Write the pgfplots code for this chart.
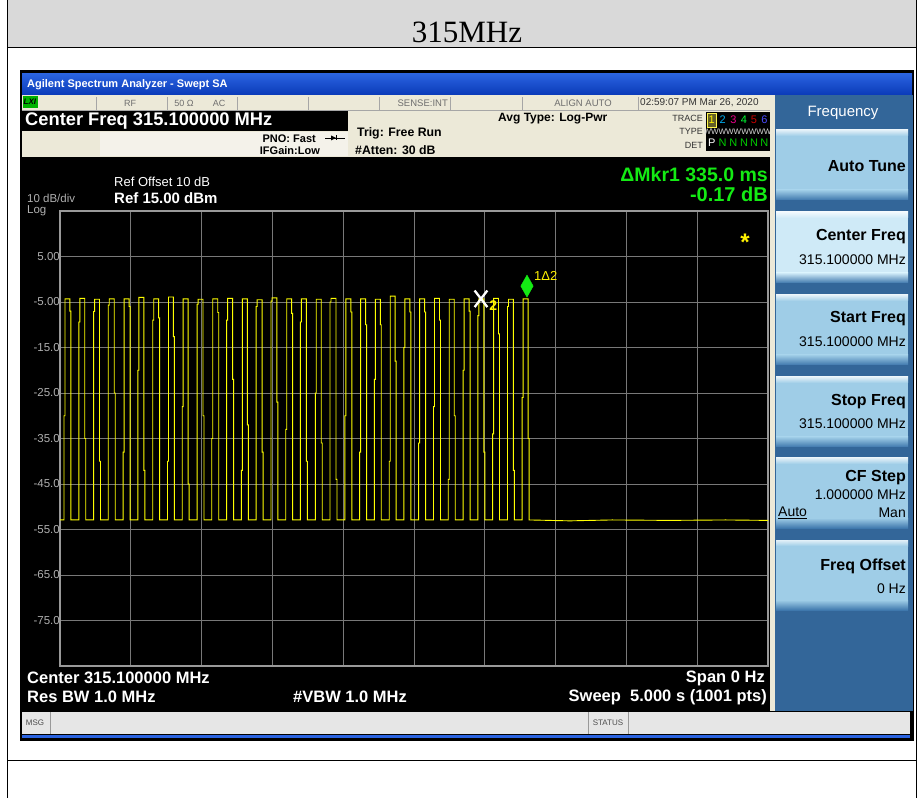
\documentclass[border=0pt]{standalone}
\usepackage{fontspec}
\setmainfont{Liberation Sans}
\newfontfamily\serif{Liberation Serif}
\usepackage{pgfplots}
\pgfplotsset{compat=1.18}
\newcommand\fs[1]{\fontsize{#1}{#1}\selectfont}
\definecolor{beige}{HTML}{ECE9D8}
\definecolor{beigeL}{HTML}{F4F2EA}
\definecolor{panelblue}{HTML}{336699}
\definecolor{btnBody}{HTML}{9FCDE7}
\definecolor{btnSel}{HTML}{CFEAF7}
\definecolor{btnDark}{HTML}{3F78AD}
\definecolor{mkgreen}{RGB}{20,235,20}
\definecolor{tracey}{RGB}{255,255,0}
\definecolor{gridc}{RGB}{120,120,120}
\definecolor{tickc}{RGB}{175,175,175}
\definecolor{hdrgray}{HTML}{D9D9D9}
\definecolor{titleA}{HTML}{2A63E0}
\definecolor{titleB}{HTML}{0A3AB8}
\definecolor{rowtxt}{HTML}{6E6E6E}
\definecolor{msgbar}{HTML}{E6E6E6}
\newcommand\btn[3]{%
 \fill[#3] (776,798-#1) rectangle (908,798-#2);
 \shade[top color=white!70!#3, bottom color=#3] (776,798-#1) rectangle (908,798-#1-6);
 \shade[top color=#3, bottom color=btnDark] (776,798-#2+10) rectangle (908,798-#2);
}
\begin{document}
\begin{tikzpicture}[x=1pt,y=1pt,every node/.style={inner sep=0pt}]
\useasboundingbox (0,0) rectangle (917,798);
\fill[white] (0,0) rectangle (917,798);
% Word table
\fill[hdrgray] (7,798) rectangle (916,798-48);
\node[font=\serif\fs{31}] at (467,798-32) {315MHz};
\draw[black,line width=1pt] (7,798)--(7,0) (916,798)--(916,0) (7,798-48)--(916,798-48) (7,798-760)--(916,798-760);
% screenshot frame
\fill[black] (20,798-70) rectangle (914,798-741);
\shade[top color=titleA, bottom color=titleB] (22,798-74) rectangle (912,798-95);
\node[anchor=west,text=white,font=\bfseries\fs{11}] at (27,798-85) {Agilent Spectrum Analyzer - Swept SA};
% status row
\fill[beige] (22,798-95) rectangle (770,798-157);
\draw[gray!70] (22,798-110.5)--(770,798-110.5);
\foreach \xx in {96,167,237,308,379,450,522,638} \draw[gray!70,line width=0.8pt] (\xx,798-97)--(\xx,798-110);
\fill[green!70!black] (23,798-96) rectangle (38,798-108);
\node[anchor=west,font=\bfseries\itshape\fs{8}] at (23.5,798-102) {LXI};
\node[text=rowtxt,font=\fs{9}] at (130,798-103) {RF};
\node[text=rowtxt,font=\fs{9}] at (184,798-103) {50 Ω};
\node[text=rowtxt,font=\fs{9}] at (219,798-103) {AC};
\node[text=rowtxt,font=\fs{9.5},anchor=east] at (448,798-103) {SENSE:INT};
\node[text=rowtxt,font=\fs{9.5}] at (583,798-103) {ALIGN AUTO};
\node[text=black!80,font=\fs{10},anchor=west] at (640,798-103) {02:59:07 PM Mar 26, 2020};
% center freq box
\fill[black] (20,798-110.7) rectangle (348,798-131);
\node[anchor=west,text=white,font=\bfseries\fs{18.3}] at (25,798-121) {Center Freq 315.100000 MHz};
\fill[beigeL] (100,798-132) rectangle (348,798-156);
\node[anchor=east,font=\bfseries\fs{11}] at (316,798-138.5) {PNO: Fast};
\node[anchor=east,font=\bfseries\fs{11}] at (320,798-151) {IFGain:Low};
\draw[line width=0.7pt] (325,798-138)--(345,798-138);
\fill (331,798-135.5)--(331,798-140.5)--(336,798-138)--cycle;
\draw[line width=0.7pt] (336.5,798-135.5)--(336.5,798-140.5);
\node[anchor=west,font=\bfseries\fs{12.3}] at (357,798-133.5) {Trig: Free Run};
\node[anchor=west,font=\bfseries\fs{12.3}] at (355,798-150) {\#Atten: 30 dB};
\node[anchor=west,font=\bfseries\fs{12}] at (498,798-119) {Avg Type: Log-Pwr};
\node[anchor=east,font=\fs{9},text=black!80] at (703,798-118.5) {TRACE};
\node[anchor=east,font=\fs{9},text=black!80] at (703,798-131.5) {TYPE};
\node[anchor=east,font=\fs{9},text=black!80] at (703,798-145) {DET};
\fill[black] (706,798-112) rectangle (771,798-151);
\fill[olive!60!black] (707.5,798-113) rectangle (716,798-127);
\draw[yellow!70] (707.5,798-113) rectangle (716,798-127);
\node[font=\fs{11},text=yellow] at (711.7,798-120) {1};
\node[font=\fs{11},text=cyan] at (722.7,798-120) {2};
\node[font=\fs{11},text=magenta] at (733.3,798-120) {3};
\node[font=\fs{11},text=green!80!cyan] at (744,798-120) {4};
\node[font=\fs{11},text=red!80!black] at (754,798-120) {5};
\node[font=\fs{11},text=blue!70!white] at (764.3,798-120) {6};
\node[font=\fs{8},text=white!85!black] at (737.5,798-132) {WWWWWWWWW};
\node[font=\fs{11},text=white] at (711.7,798-143) {P};
\foreach \xx in {722.7,733.3,744,754,764.3} \node[font=\fs{11},text=green!80!black] at (\xx,798-143) {N};
% softkey panel
\fill[beige] (770,798-95) rectangle (775,798-711);
\fill[panelblue] (775,798-95) rectangle (913,798-711);
\node[text=white,font=\fs{15}] at (843,798-113) {Frequency};
\btn{130}{200}{btnBody}
\btn{212}{283}{btnSel}
\btn{295}{365}{btnBody}
\btn{377}{447}{btnBody}
\btn{458}{528}{btnBody}
\btn{540}{610}{btnBody}
\node[anchor=east,font=\bfseries\fs{16}] at (906,798-166.5) {Auto Tune};
\node[anchor=east,font=\bfseries\fs{16}] at (906,798-237) {Center Freq};
\node[anchor=east,font=\fs{14}] at (906,798-260) {315.100000 MHz};
\node[anchor=east,font=\bfseries\fs{16}] at (906,798-319) {Start Freq};
\node[anchor=east,font=\fs{14}] at (906,798-342) {315.100000 MHz};
\node[anchor=east,font=\bfseries\fs{16}] at (906,798-402) {Stop Freq};
\node[anchor=east,font=\fs{14}] at (906,798-423.5) {315.100000 MHz};
\node[anchor=east,font=\bfseries\fs{16}] at (906,798-477.5) {CF Step};
\node[anchor=east,font=\fs{14}] at (906,798-495) {1.000000 MHz};
\node[anchor=west,font=\fs{14}] at (778,798-512.7) {\underline{Auto}};
\node[anchor=east,font=\fs{14}] at (906,798-512.7) {Man};
\node[anchor=east,font=\bfseries\fs{16}] at (906,798-566) {Freq Offset};
\node[anchor=east,font=\fs{14}] at (906,798-588.5) {0 Hz};
% display texts
\node[anchor=west,text=white,font=\fs{13}] at (114,798-182) {Ref Offset 10 dB};
\node[anchor=west,text=white,font=\bfseries\fs{15}] at (114,798-198) {Ref 15.00 dBm};
\node[anchor=west,text=tickc,font=\fs{11.5}] at (27,798-198) {10 dB/div};
\node[anchor=west,text=tickc,font=\fs{11.5}] at (27,798-211) {Log};
\node[anchor=east,text=mkgreen,font=\bfseries\fs{19.5}] at (768,798-175) {ΔMkr1 335.0 ms};
\node[anchor=east,text=mkgreen,font=\bfseries\fs{20}] at (768,798-194.5) {-0.17 dB};
\node[anchor=west,text=white,font=\bfseries\fs{16.5}] at (27,798-677.5) {Center 315.100000 MHz};
\node[anchor=west,text=white,font=\bfseries\fs{16.5}] at (27,798-697) {Res BW 1.0 MHz};
\node[anchor=west,text=white,font=\bfseries\fs{16.5}] at (293,798-697) {\#VBW 1.0 MHz};
\node[anchor=east,text=white,font=\bfseries\fs{16.5}] at (765,798-678) {Span 0 Hz};
\node[anchor=east,text=white,font=\bfseries\fs{16.5}] at (767,798-697) {Sweep\ \ 5.000 s (1001 pts)};
% msg bar
\fill[msgbar] (22,798-711.7) rectangle (910,798-734);
\draw[gray!80] (50,798-712)--(50,798-734) (588,798-712)--(588,798-734) (628,798-712)--(628,798-734);
\node[font=\fs{8},text=black!70] at (35,798-723) {MSG};
\node[font=\fs{8},text=black!70] at (608,798-723) {STATUS};
\fill[titleA] (22,798-734.5) rectangle (910,798-738);
% plot
\begin{axis}[at={(60pt,132pt)}, anchor=south west, scale only axis,
 width=708pt, height=455pt, xmin=0, xmax=5, ymin=-85, ymax=15,
 xtick={0.5,1,1.5,2,2.5,3,3.5,4,4.5}, xticklabels={},
 ytick={-75,-65,-55,-45,-35,-25,-15,-5,5},
 yticklabels={-75.0,-65.0,-55.0,-45.0,-35.0,-25.0,-15.0,-5.00,5.00},
 grid=major, grid style={gridc,line width=0.9pt},
 major tick length=0pt,
 axis line style={draw=gray!80,line width=1.4pt},
 yticklabel style={text=tickc,font=\fs{11.5}},
 clip=false]
\addplot[tracey,line width=0.9pt,mark=none] coordinates {
(0,-52.9)
(0.028,-52.9)(0.028,-30)(0.035,-30)(0.035,-4.3)(0.070,-4.3)(0.070,-7)(0.077,-7)(0.077,-52.9)
(0.133,-52.9)(0.133,-9.4)(0.140,-9.4)(0.140,-4.2)(0.175,-4.2)(0.175,-35)(0.182,-35)(0.182,-52.9)
(0.237,-52.9)(0.237,-7.1)(0.244,-7.1)(0.244,-4.4)(0.279,-4.4)(0.279,-40)(0.286,-40)(0.286,-52.9)
(0.341,-52.9)(0.341,-5.7)(0.348,-5.7)(0.348,-4.3)(0.383,-4.3)(0.383,-25)(0.390,-25)(0.390,-52.9)
(0.446,-52.9)(0.446,-38)(0.453,-38)(0.453,-4.3)(0.488,-4.3)(0.488,-6)(0.495,-6)(0.495,-52.9)
(0.550,-52.9)(0.550,-20)(0.557,-20)(0.557,-4.0)(0.592,-4.0)(0.592,-42)(0.599,-42)(0.599,-52.9)
(0.655,-52.9)(0.655,-9)(0.662,-9)(0.662,-4.3)(0.697,-4.3)(0.697,-8.5)(0.704,-8.5)(0.704,-52.9)
(0.759,-52.9)(0.759,-40)(0.766,-40)(0.766,-3.9)(0.801,-3.9)(0.801,-12.6)(0.808,-12.6)(0.808,-52.9)
(0.863,-52.9)(0.863,-28)(0.870,-28)(0.870,-4.3)(0.905,-4.3)(0.905,-45)(0.912,-45)(0.912,-52.9)
(0.968,-52.9)(0.968,-5.5)(0.975,-5.5)(0.975,-4.4)(1.010,-4.4)(1.010,-30)(1.017,-30)(1.017,-52.9)
(1.072,-52.9)(1.072,-35)(1.079,-35)(1.079,-4.3)(1.114,-4.3)(1.114,-7.3)(1.121,-7.3)(1.121,-52.9)
(1.177,-52.9)(1.177,-9)(1.184,-9)(1.184,-4.2)(1.219,-4.2)(1.219,-22)(1.226,-22)(1.226,-52.9)
(1.281,-52.9)(1.281,-42)(1.288,-42)(1.288,-4.3)(1.323,-4.3)(1.323,-32)(1.330,-32)(1.330,-52.9)
(1.385,-52.9)(1.385,-6)(1.392,-6)(1.392,-4.5)(1.427,-4.5)(1.427,-38)(1.434,-38)(1.434,-52.9)
(1.490,-52.9)(1.490,-4.8)(1.497,-4.8)(1.497,-4.1)(1.532,-4.1)(1.532,-27)(1.539,-27)(1.539,-52.9)
(1.594,-52.9)(1.594,-33)(1.601,-33)(1.601,-4.3)(1.636,-4.3)(1.636,-7.5)(1.643,-7.5)(1.643,-52.9)
(1.698,-52.9)(1.698,-9.4)(1.705,-9.4)(1.705,-4.3)(1.740,-4.3)(1.740,-40)(1.747,-40)(1.747,-52.9)
(1.803,-52.9)(1.803,-25)(1.810,-25)(1.810,-4.4)(1.845,-4.4)(1.845,-36)(1.852,-36)(1.852,-52.9)
(1.907,-52.9)(1.907,-5)(1.914,-5)(1.914,-4.2)(1.949,-4.2)(1.949,-44)(1.956,-44)(1.956,-52.9)
(2.012,-52.9)(2.012,-30)(2.019,-30)(2.019,-4.3)(2.054,-4.3)(2.054,-7.2)(2.061,-7.2)(2.061,-52.9)
(2.116,-52.9)(2.116,-38)(2.123,-38)(2.123,-4.3)(2.158,-4.3)(2.158,-10)(2.165,-10)(2.165,-52.9)
(2.220,-52.9)(2.220,-22)(2.227,-22)(2.227,-4.4)(2.262,-4.4)(2.262,-10)(2.269,-10)(2.269,-52.9)
(2.325,-52.9)(2.325,-40)(2.332,-40)(2.332,-3.7)(2.367,-3.7)(2.367,-18)(2.374,-18)(2.374,-52.9)
(2.429,-52.9)(2.429,-15)(2.436,-15)(2.436,-4.3)(2.471,-4.3)(2.471,-7.2)(2.478,-7.2)(2.478,-52.9)
(2.533,-52.9)(2.533,-36)(2.540,-36)(2.540,-4.3)(2.575,-4.3)(2.575,-7.2)(2.582,-7.2)(2.582,-52.9)
(2.638,-52.9)(2.638,-28)(2.645,-28)(2.645,-4.2)(2.680,-4.2)(2.680,-9)(2.687,-9)(2.687,-52.9)
(2.742,-52.9)(2.742,-44)(2.749,-44)(2.749,-4.4)(2.784,-4.4)(2.784,-30)(2.791,-30)(2.791,-52.9)
(2.847,-52.9)(2.847,-20)(2.854,-20)(2.854,-4.3)(2.889,-4.3)(2.889,-7)(2.896,-7)(2.896,-52.9)
(2.951,-52.9)(2.951,-8)(2.958,-8)(2.958,-4.3)(2.993,-4.3)(2.993,-38)(3.000,-38)(3.000,-52.9)
(3.055,-52.9)(3.055,-34)(3.062,-34)(3.062,-4.2)(3.097,-4.2)(3.097,-12)(3.104,-12)(3.104,-52.9)
(3.160,-52.9)(3.160,-6)(3.167,-6)(3.167,-4.4)(3.202,-4.4)(3.202,-42)(3.209,-42)(3.209,-52.9)
(3.264,-52.9)(3.264,-26)(3.271,-26)(3.271,-4.3)(3.306,-4.3)(3.306,-35)(3.313,-35)(3.313,-52.9)
(3.6,-53.1)(3.9,-52.9)(4.3,-53.0)(4.7,-52.9)(5.0,-53.0)
};
\addplot[only marks,mark=x,mark size=9pt,white,line width=2.3pt,mark options={yscale=1.3}] coordinates {(2.973,-4.3)};
\addplot[only marks,mark=diamond*,mark size=11pt,mkgreen,mark options={xscale=0.75}] coordinates {(3.298,-1.5)};
\node[anchor=west,text=yellow,font=\fs{13}] at (axis cs:3.347,0.7) {1Δ2};
\node[anchor=west,text=yellow,font=\bfseries\fs{14}] at (axis cs:3.03,-5.8) {2};
\node[text=yellow,font=\bfseries\fs{24}] at (axis cs:4.838,8.2) {*};
\end{axis}
\end{tikzpicture}
\end{document}
